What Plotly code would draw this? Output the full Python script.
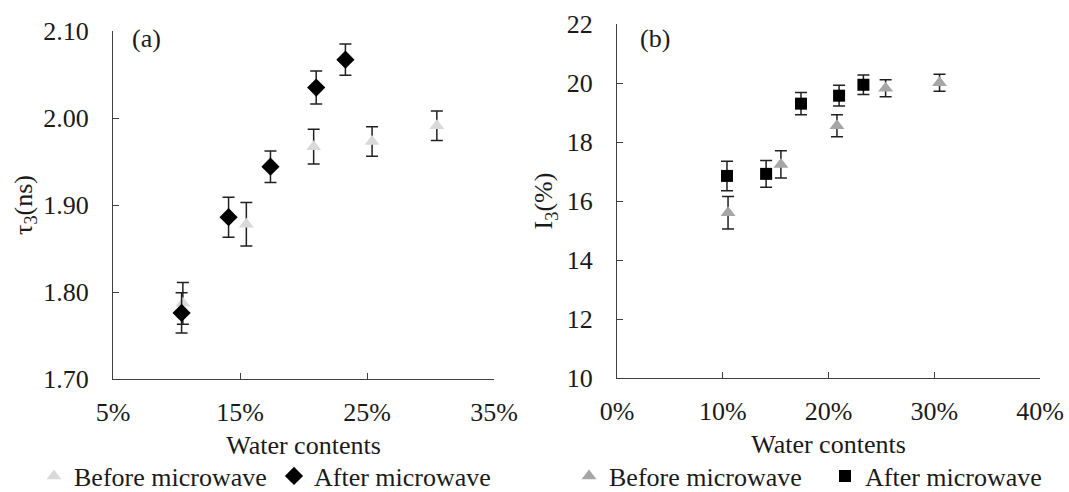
import plotly.graph_objects as go

# ---- data ----
water_before = [10.5, 15.5, 20.8, 25.4, 30.5]
water_after = [10.4, 14.1, 17.4, 21.0, 23.3]

tau3_before = [1.787, 1.878, 1.967, 1.973, 1.991]
tau3_before_err = [0.024, 0.025, 0.020, 0.017, 0.017]
tau3_after = [1.776, 1.886, 1.944, 2.035, 2.067]
tau3_after_err = [0.023, 0.023, 0.018, 0.019, 0.018]

i3_before = [15.6, 17.24, 18.55, 19.82, 20.01]
i3_before_err = [0.55, 0.46, 0.37, 0.29, 0.29]
i3_after = [16.85, 16.92, 19.30, 19.57, 19.94]
i3_after_err = [0.50, 0.45, 0.38, 0.35, 0.33]

series_names = ["Before microwave", "After microwave"]

FONT = "Liberation Serif, Times New Roman, serif"
FS = 26
TXT = "#1a1a1a"
AX = "#404040"

fig = go.Figure()

def err(vals):
    return dict(type="data", array=vals, visible=True, color="#202020", thickness=1.5, width=6)

# panel (a)
fig.add_trace(go.Scatter(x=water_before, y=tau3_before, mode="markers", name=series_names[0],
                         marker=dict(symbol="triangle-up", size=13, color="#d9d9d9"),
                         error_y=err(tau3_before_err), xaxis="x", yaxis="y", legend="legend"))
fig.add_trace(go.Scatter(x=water_after, y=tau3_after, mode="markers", name=series_names[1],
                         marker=dict(symbol="diamond", size=14, color="#000000"),
                         error_y=err(tau3_after_err), xaxis="x", yaxis="y", legend="legend"))
# panel (b)
fig.add_trace(go.Scatter(x=water_before, y=i3_before, mode="markers", name=series_names[0],
                         marker=dict(symbol="triangle-up", size=13, color="#a6a6a6"),
                         error_y=err(i3_before_err), xaxis="x2", yaxis="y2", legend="legend2"))
fig.add_trace(go.Scatter(x=water_after, y=i3_after, mode="markers", name=series_names[1],
                         marker=dict(symbol="square", size=12, color="#000000"),
                         error_y=err(i3_after_err), xaxis="x2", yaxis="y2", legend="legend2"))

W, H = 1069, 492

def ax_common(standoff):
    return dict(showline=True, linecolor=AX, linewidth=1.3, ticks="inside", ticklen=6,
                tickcolor=AX, tickwidth=1.3, showgrid=False, zeroline=False,
                ticklabelstandoff=standoff, automargin=False,
                tickfont=dict(family=FONT, size=FS, color=TXT))

title_font = dict(family=FONT, size=FS, color=TXT)

fig.update_layout(
    width=W, height=H, margin=dict(l=0, r=0, t=0, b=0, autoexpand=False),
    paper_bgcolor="white", plot_bgcolor="white",
    font=dict(family=FONT, size=FS, color=TXT),
    xaxis=dict(domain=[113 / W, 494 / W], anchor="y", range=[5, 35], dtick=10, tick0=5,
               ticksuffix="%", title=dict(text="Water contents", standoff=9, font=title_font),
               **ax_common(10)),
    yaxis=dict(domain=[1 - 379 / H, 1 - 31 / H], anchor="x", range=[1.70, 2.10], dtick=0.1,
               tickformat=".2f", title=dict(text="τ<sub>3</sub>(ns)", standoff=3, font=title_font),
               **ax_common(18)),
    xaxis2=dict(domain=[617 / W, 1040 / W], anchor="y2", range=[0, 40], dtick=10,
                ticksuffix="%", title=dict(text="Water contents", standoff=9, font=title_font),
                **ax_common(10)),
    yaxis2=dict(domain=[1 - 378 / H, 1 - 24 / H], anchor="x2", range=[10, 22], dtick=2,
                title=dict(text="I<sub>3</sub>(%)", standoff=6, font=title_font),
                **ax_common(18)),
    legend=dict(orientation="h", x=34 / W, y=1 - 476 / H, xanchor="left", yanchor="middle",
                font=dict(family=FONT, size=FS, color=TXT), entrywidth=195, tracegroupgap=0,
                bgcolor="rgba(0,0,0,0)"),
    legend2=dict(orientation="h", x=569 / W, y=1 - 476 / H, xanchor="left", yanchor="middle",
                 font=dict(family=FONT, size=FS, color=TXT), entrywidth=211, tracegroupgap=0,
                 bgcolor="rgba(0,0,0,0)"),
    annotations=[
        dict(text="(a)", x=130 / W, y=1 - 39 / H, xref="paper", yref="paper", showarrow=False,
             xanchor="left", yanchor="middle", font=title_font),
        dict(text="(b)", x=638 / W, y=1 - 38 / H, xref="paper", yref="paper", showarrow=False,
             xanchor="left", yanchor="middle", font=title_font),
    ],
)

fig.write_html("out.html", config={"displayModeBar": False},
               post_script="document.body.style.margin='0';")
